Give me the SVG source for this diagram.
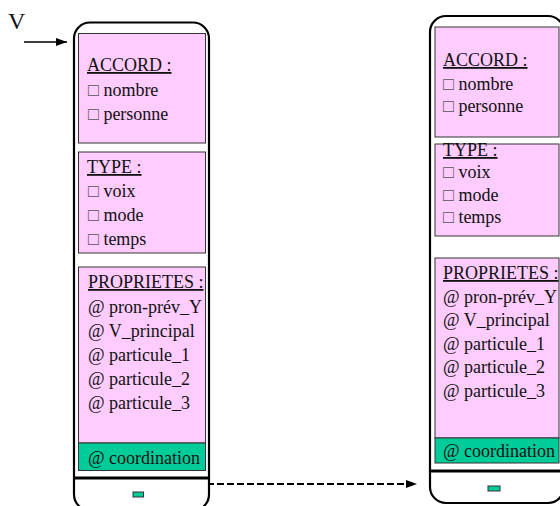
<svg xmlns="http://www.w3.org/2000/svg" width="560" height="506" viewBox="0 0 560 506">
<defs>
<style>
.outer{fill:#fff;stroke:#000;stroke-width:2.2}
.pk{fill:#ffccff;stroke:#333;stroke-width:1}
.gr{fill:#00cc99;stroke:#333;stroke-width:1}
.div{stroke:#000;stroke-width:2.8}
.t{font-family:"Liberation Serif","Times New Roman",serif;font-size:18px;fill:#111}
.h{text-decoration:underline}
.sq{fill:#555}
</style>
<marker id="ah" markerWidth="11" markerHeight="8" refX="11" refY="4" orient="auto" markerUnits="userSpaceOnUse">
<path d="M0,0 L11,4 L0,8 Z" fill="#000"/>
</marker>
</defs>
<text class="t" x="8" y="29" style="font-size:24px">V</text>
<g id="connectors">
<line x1="24" y1="42" x2="67" y2="42" stroke="#000" stroke-width="1.6" marker-end="url(#ah)"/>
<line x1="167" y1="484" x2="417" y2="484" stroke="#000" stroke-width="1.8" stroke-dasharray="7,3" marker-end="url(#ah)"/>
</g>
<g id="node-left">
<rect class="outer" x="74" y="22.5" width="135" height="488" rx="16"/>
<rect class="pk" x="78.5" y="33.5" width="127" height="109.5"/>
<rect class="pk" x="78.5" y="152" width="127" height="101"/>
<rect class="pk" x="78.5" y="267" width="127" height="176"/>
<rect class="gr" x="78.5" y="443" width="127" height="27.5"/>
<line class="div" x1="74" y1="478" x2="209" y2="478"/>
<rect class="gr" x="133" y="492" width="10.5" height="5" stroke="#000"/>
<text class="t h" x="87" y="71">ACCORD :</text>
<text class="t" x="88" y="96"><tspan class="sq">□</tspan> nombre</text>
<text class="t" x="88" y="120"><tspan class="sq">□</tspan> personne</text>
<text class="t h" x="87" y="173">TYPE :</text>
<text class="t" x="88" y="197"><tspan class="sq">□</tspan> voix</text>
<text class="t" x="88" y="221"><tspan class="sq">□</tspan> mode</text>
<text class="t" x="88" y="245"><tspan class="sq">□</tspan> temps</text>
<text class="t h" x="88" y="288">PROPRIETES :</text>
<text class="t" x="88" y="313">@ pron-prév_Y</text>
<text class="t" x="88" y="337">@ V_principal</text>
<text class="t" x="88" y="361">@ particule_1</text>
<text class="t" x="88" y="385">@ particule_2</text>
<text class="t" x="88" y="409">@ particule_3</text>
<text class="t" x="88" y="464">@ coordination</text>
</g>
<g id="node-right">
<rect class="outer" x="430" y="16" width="134" height="487" rx="16"/>
<rect class="pk" x="435" y="27" width="124" height="110"/>
<rect class="pk" x="435" y="144" width="124" height="92"/>
<rect class="pk" x="435" y="258" width="124" height="180"/>
<rect class="gr" x="435" y="438" width="124" height="25"/>
<line class="div" x1="430" y1="471" x2="564" y2="471"/>
<rect class="gr" x="488" y="486" width="12" height="5" stroke="#000"/>
<text class="t h" x="443" y="66">ACCORD :</text>
<text class="t" x="443" y="90"><tspan class="sq">□</tspan> nombre</text>
<text class="t" x="443" y="112"><tspan class="sq">□</tspan> personne</text>
<text class="t h" x="443" y="156">TYPE :</text>
<text class="t" x="443" y="178"><tspan class="sq">□</tspan> voix</text>
<text class="t" x="443" y="201"><tspan class="sq">□</tspan> mode</text>
<text class="t" x="443" y="223"><tspan class="sq">□</tspan> temps</text>
<text class="t h" x="443" y="279">PROPRIETES :</text>
<text class="t" x="443" y="303">@ pron-prév_Y</text>
<text class="t" x="443" y="326">@ V_principal</text>
<text class="t" x="443" y="350">@ particule_1</text>
<text class="t" x="443" y="373">@ particule_2</text>
<text class="t" x="443" y="397">@ particule_3</text>
<text class="t" x="443" y="457">@ coordination</text>
</g>
</svg>
